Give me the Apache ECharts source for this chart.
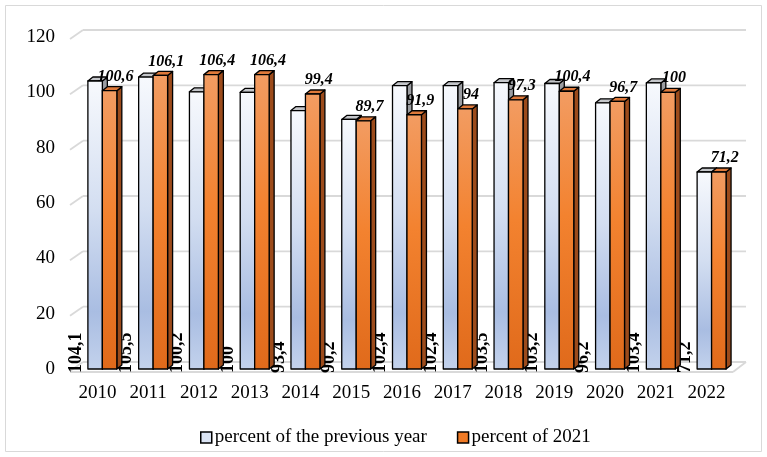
<!DOCTYPE html>
<html>
<head>
<meta charset="utf-8">
<script src="https://cdn.jsdelivr.net/npm/echarts@6/dist/echarts.min.js"></script>
<style>
html,body{margin:0;padding:0;background:#fff;}
#chart{width:767px;height:457px;}
</style>
</head>
<body>
<div id="chart"></div>
<script>
const categories = ['2010','2011','2012','2013','2014','2015','2016','2017','2018','2019','2020','2021','2022'];
const prevYear = [104.1,105.5,100.2,100,93.4,90.2,102.4,102.4,103.5,103.2,96.2,103.4,71.2];
const of2021 = [100.6,106.1,106.4,106.4,99.4,89.7,91.9,94,97.3,100.4,96.7,100,71.2];
const yTicks = [0,20,40,60,80,100,120];
const seriesNames = ['percent of the previous year','percent of 2021'];

const FONT = "'Liberation Serif', serif";
const DX = 5, DY = -4;
const fmt = v => String(v).replace('.', ',');

const blueGrad = () => new echarts.graphic.LinearGradient(0,0,0,1,[
  {offset:0,color:'#f7f9fd'},{offset:0.45,color:'#d3def1'},{offset:0.8,color:'#a9bde2'},{offset:1,color:'#c3d2ec'}]);
const orangeGrad = () => new echarts.graphic.LinearGradient(0,0,0,1,[
  {offset:0,color:'#f29c62'},{offset:0.45,color:'#f3822f'},{offset:1,color:'#e06a1b'}]);

function barRenderer(kind){
  return function(params, api){
    const i = api.value(0), v = api.value(1);
    const top = api.coord([i, v]);
    const base = api.coord([i, 0]);
    const band = api.size([1,0])[0];
    const w = band*0.285;
    const cx = top[0];
    const x1 = kind === 'blue' ? cx - band*0.187 : cx - band*0.187 + w;
    const x2 = x1 + w;
    const yt = top[1], yb = base[1];
    const line = {stroke:'#000', lineWidth:1.3, lineJoin:'round'};
    const faceTop = kind === 'blue' ? '#c4c6ca' : '#de793a';
    const faceSide = kind === 'blue' ? '#9b9da1' : '#9c4b1b';
    const children = [
      {type:'polygon', shape:{points:[[x2,yt],[x2+DX,yt+DY],[x2+DX,yb+DY],[x2,yb]]}, style:Object.assign({fill:faceSide}, line)},
      {type:'polygon', shape:{points:[[x1,yt],[x1+DX,yt+DY],[x2+DX,yt+DY],[x2,yt]]}, style:Object.assign({fill:faceTop}, line)},
      {type:'rect', shape:{x:x1, y:yt, width:w, height:yb-yt}, style:Object.assign({fill: kind==='blue'?blueGrad():orangeGrad()}, line)}
    ];
    if (kind === 'blue') {
      children.push({type:'text', x: x1 - 12, y: yb + 4, rotation: Math.PI/2,
        style:{text: fmt(v), x:0, y:0, align:'left', verticalAlign:'middle', fontFamily:FONT, fontSize:18, fontWeight:'bold', fill:'#000'}});
    } else {
      children.push({type:'text', style:{text: fmt(v), x: (x1+x2)/2 + 6, y: yt - 14, align:'center', verticalAlign:'middle', fontFamily:FONT, fontSize:16, fontWeight:'bold', fontStyle:'italic', fill:'#000'}});
    }
    return {type:'group', children};
  };
}

function gridRenderer(params, api){
  const v = api.value(1);
  const cs = params.coordSys;
  const y = api.coord([0, v])[1];
  const x0 = cs.x, x3 = cs.x + cs.width;
  const st = {stroke:'#d9d9d9', lineWidth:1.8};
  const ch = [
    {type:'line', shape:{x1:x0-2, y1:y+2, x2:x0+11, y2:y-7}, style:st},
    {type:'line', shape:{x1:x0+11, y1:y-7, x2:x3+14, y2:y-7}, style:st}
  ];
  if (v === 0) {
    ch.push({type:'line', shape:{x1:x0-2, y1:y+3, x2:x3+1, y2:y+3}, style:st});
    ch.push({type:'line', shape:{x1:x3+1, y1:y+3, x2:x3+14, y2:y-7}, style:st});
  }
  return {type:'group', children: ch};
}

const chart = echarts.init(document.getElementById('chart'));
chart.setOption({
  animation:false,
  backgroundColor:'#fff',
  graphic:[{type:'rect', shape:{x:5.5, y:5.5, width:756, height:446}, style:{fill:'none', stroke:'#d9d9d9', lineWidth:1}, silent:true}],
  grid:{left:72, right:35, top:37, bottom:88, containLabel:false},
  legend:{
    left:195, top:423, icon:'rect', itemWidth:11, itemHeight:11, itemGap:30,
    textStyle:{fontFamily:FONT, fontSize:19, color:'#000', padding:[0,0,0,-2]},
    data:[
      {name:seriesNames[0], itemStyle:{color:'#dbe4f4', borderColor:'#000', borderWidth:1.5}},
      {name:seriesNames[1], itemStyle:{color:'#f07a25', borderColor:'#000', borderWidth:1.5}}
    ]
  },
  xAxis:{type:'category', data:categories, axisLine:{show:false}, axisTick:{show:false},
    axisLabel:{fontFamily:FONT, fontSize:19, color:'#000', margin:15}},
  yAxis:{type:'value', min:0, max:120, interval:20, splitLine:{show:false}, axisLine:{show:false}, axisTick:{show:false},
    axisLabel:{fontFamily:FONT, fontSize:19, color:'#000', margin:17, padding:[8,0,0,0]}},
  series:[
    {type:'custom', name:'grid', z:1, silent:true, renderItem:gridRenderer, data: yTicks.map(t=>[0,t])},
    {type:'custom', name:seriesNames[0], z:2, renderItem:barRenderer('blue'), itemStyle:{color:'#dbe4f4'},
      data: prevYear.map((v,i)=>[i,v])},
    {type:'custom', name:seriesNames[1], z:3, renderItem:barRenderer('orange'), itemStyle:{color:'#f07a25'},
      data: of2021.map((v,i)=>[i,v])}
  ]
});
</script>
</body>
</html>
